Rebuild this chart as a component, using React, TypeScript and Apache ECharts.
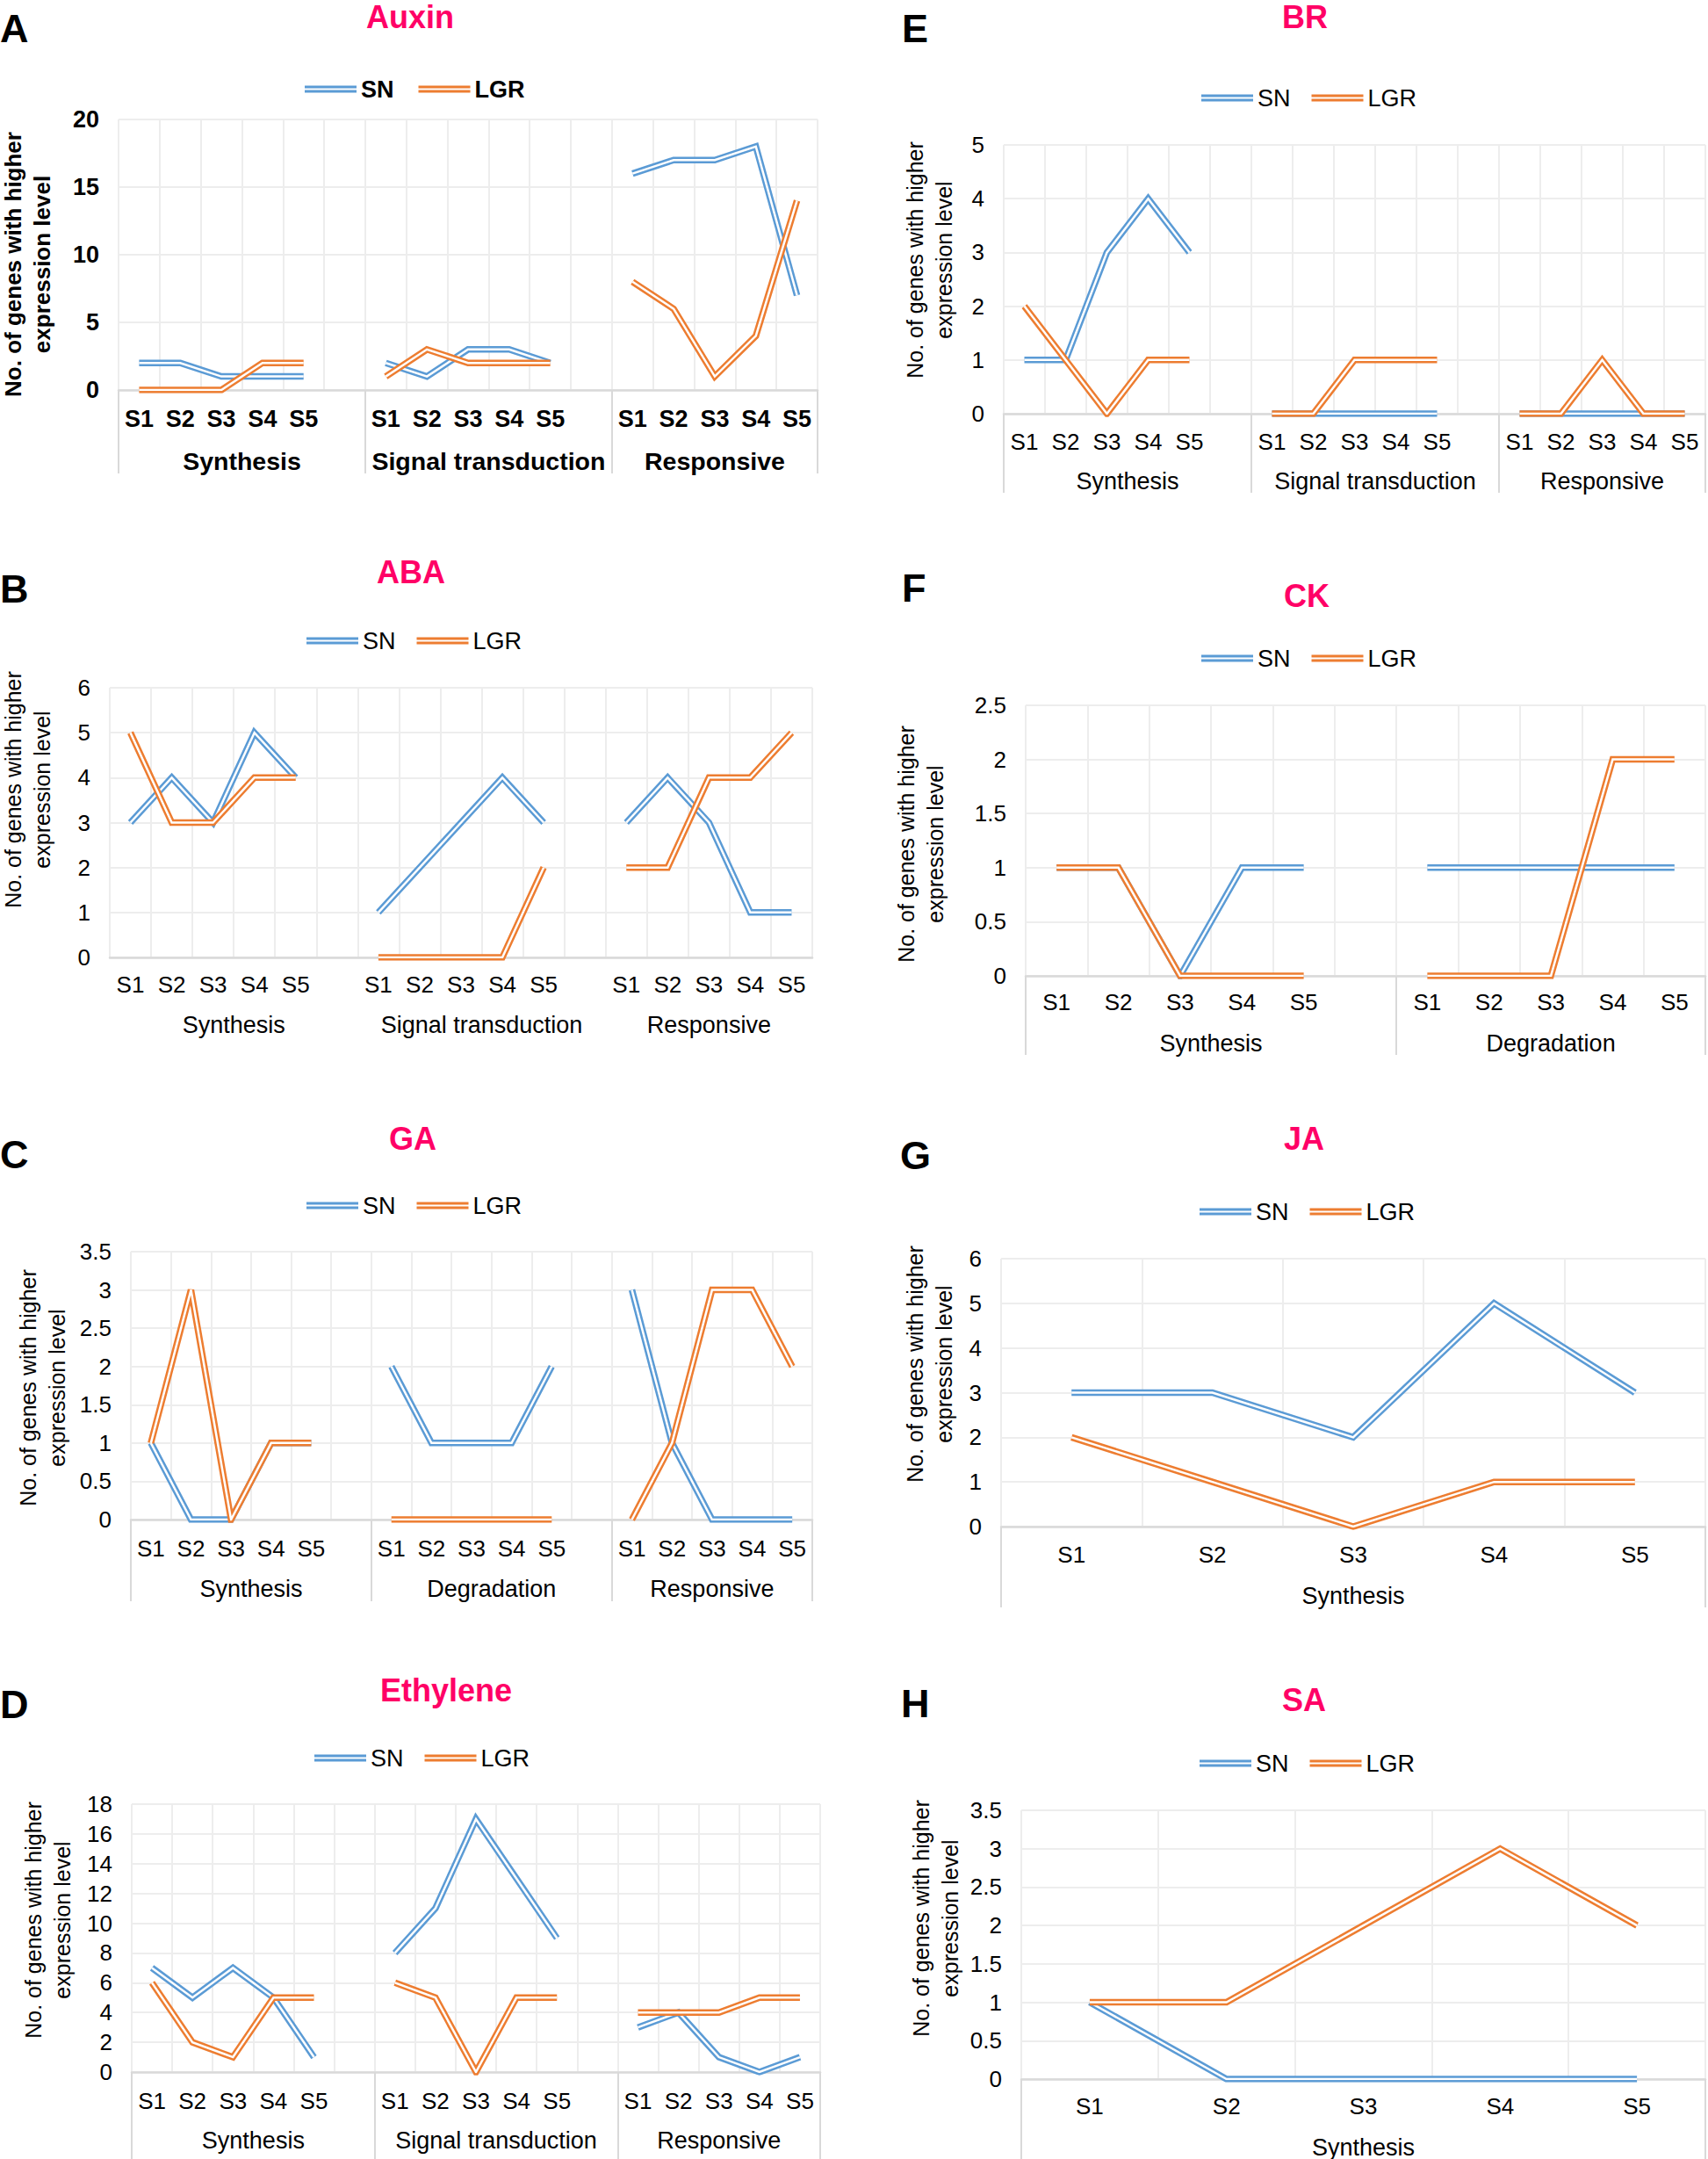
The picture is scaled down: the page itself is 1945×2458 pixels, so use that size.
import React, { useEffect, useRef } from 'react';
import * as echarts from 'echarts';

// ---------------- data ----------------
const STAGES = ['S1', 'S2', 'S3', 'S4', 'S5'];
const Y_TITLE = 'No. of genes with higher\nexpression level';

// A  Auxin
const auxinGroups = ['Synthesis', 'Signal transduction', 'Responsive'];
const auxinSN = [[2, 2, 1, 1, 1], [2, 1, 3, 3, 2], [16, 17, 17, 18, 7]];
const auxinLGR = [[0, 0, 0, 2, 2], [1, 3, 2, 2, 2], [8, 6, 1, 4, 14]];
const auxinTicks = [0, 5, 10, 15, 20];

// B  ABA
const abaGroups = ['Synthesis', 'Signal transduction', 'Responsive'];
const abaSN = [[3, 4, 3, 5, 4], [1, 2, 3, 4, 3], [3, 4, 3, 1, 1]];
const abaLGR = [[5, 3, 3, 4, 4], [0, 0, 0, 0, 2], [2, 2, 4, 4, 5]];
const abaTicks = [0, 1, 2, 3, 4, 5, 6];

// C  GA
const gaGroups = ['Synthesis', 'Degradation', 'Responsive'];
const gaSN = [[1, 0, 0, 1, 1], [2, 1, 1, 1, 2], [3, 1, 0, 0, 0]];
const gaLGR = [[1, 3, 0, 1, 1], [0, 0, 0, 0, 0], [0, 1, 3, 3, 2]];
const gaTicks = [0, 0.5, 1, 1.5, 2, 2.5, 3, 3.5];

// D  Ethylene
const ethGroups = ['Synthesis', 'Signal transduction', 'Responsive'];
const ethSN = [[7, 5, 7, 5, 1], [8, 11, 17, 13, 9], [3, 4, 1, 0, 1]];
const ethLGR = [[6, 2, 1, 5, 5], [6, 5, 0, 5, 5], [4, 4, 4, 5, 5]];
const ethTicks = [0, 2, 4, 6, 8, 10, 12, 14, 16, 18];

// E  BR
const brGroups = ['Synthesis', 'Signal transduction', 'Responsive'];
const brSN = [[1, 1, 3, 4, 3], [0, 0, 0, 0, 0], [0, 0, 0, 0, 0]];
const brLGR = [[2, 1, 0, 1, 1], [0, 0, 1, 1, 1], [0, 0, 1, 0, 0]];
const brTicks = [0, 1, 2, 3, 4, 5];

// F  CK
const ckGroups = ['Synthesis', 'Degradation'];
const ckSN = [[1, 1, 0, 1, 1], [1, 1, 1, 1, 1]];
const ckLGR = [[1, 1, 0, 0, 0], [0, 0, 0, 2, 2]];
const ckTicks = [0, 0.5, 1, 1.5, 2, 2.5];

// G  JA
const jaGroups = ['Synthesis'];
const jaSN = [[3, 3, 2, 5, 3]];
const jaLGR = [[2, 1, 0, 1, 1]];
const jaTicks = [0, 1, 2, 3, 4, 5, 6];

// H  SA
const saGroups = ['Synthesis'];
const saSN = [[1, 0, 0, 0, 0]];
const saLGR = [[1, 1, 2, 3, 2]];
const saTicks = [0, 0.5, 1, 1.5, 2, 2.5, 3, 3.5];

// ---------------- style / layout ----------------
const FONT = '"Liberation Sans", Arial, sans-serif';
const BLUE = '#5B9BD5';
const ORANGE = '#ED7D31';
const PINK = '#FF0066';
const GRID_C = '#EDEDED';
const AXIS_C = '#D9D9D9';
const DOUBLE_ICON = 'path://M0,0L60,0L60,3L0,3Z M0,5L60,5L60,8L0,8Z';

type Panel = {
  letter: string; title: string; groups: string[]; sn: number[][]; lgr: number[][]; ticks: number[];
  bold: boolean; sep: boolean;
  grid: { left: number; top: number; width: number; height: number };
  letterPos: [number, number]; titlePos: [number, number]; legendPos: [number, number];
  yTitlePos: [number, number]; labelMargin: number; groupMargin: number; tickLen: number;
};

const PANELS: Panel[] = [
  { letter: 'A', title: 'Auxin', groups: auxinGroups, sn: auxinSN, lgr: auxinLGR, ticks: auxinTicks, bold: true, sep: true,
    grid: { left: 135, top: 136, width: 796, height: 308 }, letterPos: [0, 32], titlePos: [467, 19],
    legendPos: [347, 88], yTitlePos: [31, 301], labelMargin: 19, groupMargin: 66, tickLen: 95 },
  { letter: 'B', title: 'ABA', groups: abaGroups, sn: abaSN, lgr: abaLGR, ticks: abaTicks, bold: false, sep: false,
    grid: { left: 125, top: 783, width: 800, height: 307 }, letterPos: [0, 670], titlePos: [468, 651],
    legendPos: [349, 716], yTitlePos: [31, 899], labelMargin: 18, groupMargin: 63, tickLen: 0 },
  { letter: 'C', title: 'GA', groups: gaGroups, sn: gaSN, lgr: gaLGR, ticks: gaTicks, bold: false, sep: true,
    grid: { left: 149, top: 1425, width: 776, height: 305 }, letterPos: [0, 1314], titlePos: [470, 1296],
    legendPos: [349, 1359], yTitlePos: [48, 1580], labelMargin: 20, groupMargin: 65, tickLen: 93 },
  { letter: 'D', title: 'Ethylene', groups: ethGroups, sn: ethSN, lgr: ethLGR, ticks: ethTicks, bold: false, sep: true,
    grid: { left: 150, top: 2054, width: 784, height: 305 }, letterPos: [0, 1940], titlePos: [508, 1924],
    legendPos: [358, 1988], yTitlePos: [54, 2186], labelMargin: 20, groupMargin: 64, tickLen: 99 },
  { letter: 'E', title: 'BR', groups: brGroups, sn: brSN, lgr: brLGR, ticks: brTicks, bold: false, sep: true,
    grid: { left: 1143, top: 165, width: 800, height: 306 }, letterPos: [1027, 32], titlePos: [1486, 19],
    legendPos: [1368, 98], yTitlePos: [1058, 296], labelMargin: 19, groupMargin: 63, tickLen: 90 },
  { letter: 'F', title: 'CK', groups: ckGroups, sn: ckSN, lgr: ckLGR, ticks: ckTicks, bold: false, sep: true,
    grid: { left: 1168, top: 803, width: 775, height: 308 }, letterPos: [1027, 669], titlePos: [1488, 678],
    legendPos: [1368, 736], yTitlePos: [1048, 961], labelMargin: 17, groupMargin: 63, tickLen: 90 },
  { letter: 'G', title: 'JA', groups: jaGroups, sn: jaSN, lgr: jaLGR, ticks: jaTicks, bold: false, sep: true,
    grid: { left: 1140, top: 1433, width: 803, height: 305 }, letterPos: [1025, 1315], titlePos: [1485, 1296],
    legendPos: [1366, 1366], yTitlePos: [1058, 1553], labelMargin: 19, groupMargin: 65, tickLen: 92 },
  { letter: 'H', title: 'SA', groups: saGroups, sn: saSN, lgr: saLGR, ticks: saTicks, bold: false, sep: true,
    grid: { left: 1163, top: 2061, width: 780, height: 306 }, letterPos: [1026, 1939], titlePos: [1485, 1935],
    legendPos: [1366, 1994], yTitlePos: [1065, 2184], labelMargin: 18, groupMargin: 64, tickLen: 92 },
];

function buildOption() {
  const grid: any[] = [], xAxis: any[] = [], yAxis: any[] = [], series: any[] = [], legend: any[] = [], graphic: any[] = [];

  PANELS.forEach((p, i) => {
    const cats: string[] = [];
    const snData: (number | null)[] = [];
    const lgrData: (number | null)[] = [];
    const starts: number[] = [];
    const centers: number[] = [];
    p.groups.forEach((g, gi) => {
      const last = gi === p.groups.length - 1;
      starts.push(cats.length);
      centers.push(cats.length + (last ? 5 : 6) / 2);
      STAGES.forEach((s, k) => { cats.push(s); snData.push(p.sn[gi][k]); lgrData.push(p.lgr[gi][k]); });
      if (!last) { cats.push(''); snData.push(null); lgrData.push(null); }
    });

    const weight = p.bold ? 'bold' : 'normal';
    const tickFont = p.bold ? 27 : 26;
    const groupFont = p.bold ? 28.5 : 27;
    const legendFont = 27;
    const yTitleFont = p.bold ? 26 : 25;

    grid.push({ ...p.grid, containLabel: false });

    xAxis.push({
      gridIndex: i, type: 'category', data: cats, boundaryGap: true, position: 'bottom',
      axisLine: { show: true, onZero: false, lineStyle: { color: AXIS_C, width: 2.5 } },
      axisTick: { show: p.sep, alignWithLabel: false, interval: (idx: number) => starts.indexOf(idx) >= 0,
        length: p.tickLen, lineStyle: { color: AXIS_C, width: 2 } },
      axisLabel: { interval: 0, margin: p.labelMargin, fontSize: tickFont, fontFamily: FONT, fontWeight: weight, color: '#000' },
      splitLine: { show: true, interval: 0, lineStyle: { color: GRID_C, width: 2 } },
    });
    xAxis.push({
      gridIndex: i, type: 'value', min: 0, max: cats.length, interval: 0.5, position: 'bottom',
      axisLine: { show: false, onZero: false }, axisTick: { show: false }, splitLine: { show: false },
      axisLabel: {
        margin: p.groupMargin, fontSize: groupFont, fontFamily: FONT, fontWeight: weight, color: '#000',
        showMinLabel: true, showMaxLabel: true,
        formatter: (v: number) => {
          const gi = centers.findIndex((c) => Math.abs(c - v) < 1e-6);
          return gi >= 0 ? p.groups[gi] : '';
        },
      },
    });
    const yMin = p.ticks[0];
    const yMax = p.ticks[p.ticks.length - 1];
    yAxis.push({
      gridIndex: i, type: 'value', min: yMin, max: yMax, interval: p.ticks[1] - p.ticks[0],
      axisLine: { show: false }, axisTick: { show: false },
      splitLine: { show: true, lineStyle: { color: GRID_C, width: 2 } },
      axisLabel: { margin: 22, fontSize: tickFont, fontFamily: FONT, fontWeight: weight, color: '#000' },
    });

    const xi = i * 2;
    const mk = (name: string, data: (number | null)[], color: string, width: number) => ({
      type: 'line', name, data, xAxisIndex: xi, yAxisIndex: i, symbol: 'none', showSymbol: false,
      connectNulls: false, silent: true, animation: false,
      lineStyle: { color, width, join: 'miter', cap: 'butt', miterLimit: 10 },
      itemStyle: { color }, emphasis: { disabled: true },
    });
    series.push(mk('SN', snData, BLUE, 7.5));
    series.push(mk('SN inner', snData, '#FFFFFF', 2.5));
    series.push(mk('LGR', lgrData, ORANGE, 7.5));
    series.push(mk('LGR inner', lgrData, '#FFFFFF', 2.5));

    legend.push({
      left: p.legendPos[0], top: p.legendPos[1], padding: 0, orient: 'horizontal',
      itemWidth: 59, itemHeight: 8, itemGap: p.bold ? 28 : 24, icon: DOUBLE_ICON, selectedMode: false,
      itemStyle: { borderWidth: 0 },
      textStyle: { fontFamily: FONT, fontSize: legendFont, fontWeight: weight, color: '#000' },
      data: [{ name: 'SN', itemStyle: { color: BLUE } }, { name: 'LGR', itemStyle: { color: ORANGE } }],
    });

    graphic.push({
      type: 'text', x: p.letterPos[0], y: p.letterPos[1],
      style: { text: p.letter, fontSize: 45, fontWeight: 'bold', fontFamily: FONT, fill: '#000',
        align: 'left', textAlign: 'left', verticalAlign: 'middle', textVerticalAlign: 'middle' },
    });
    graphic.push({
      type: 'text', x: p.titlePos[0], y: p.titlePos[1],
      style: { text: p.title, fontSize: 36, fontWeight: 'bold', fontFamily: FONT, fill: PINK,
        align: 'center', textAlign: 'center', verticalAlign: 'middle', textVerticalAlign: 'middle' },
    });
    graphic.push({
      type: 'text', x: p.yTitlePos[0], y: p.yTitlePos[1], rotation: Math.PI / 2,
      style: { text: Y_TITLE, fontSize: yTitleFont, lineHeight: 33, fontWeight: weight, fontFamily: FONT, fill: '#000',
        align: 'center', textAlign: 'center', verticalAlign: 'middle', textVerticalAlign: 'middle' },
    });
  });

  return { animation: false, backgroundColor: '#FFFFFF', grid, xAxis, yAxis, series, legend, graphic };
}

export default function App() {
  const ref = useRef<HTMLDivElement>(null);
  useEffect(() => {
    if (!ref.current) return;
    const chart = echarts.init(ref.current, undefined, { renderer: 'svg' });
    chart.setOption(buildOption() as any);
    return () => chart.dispose();
  }, []);
  return (
    <div
      ref={ref}
      style={{ position: 'absolute', left: 0, top: 0, width: 1945, height: 2458, background: '#fff' }}
    />
  );
}
